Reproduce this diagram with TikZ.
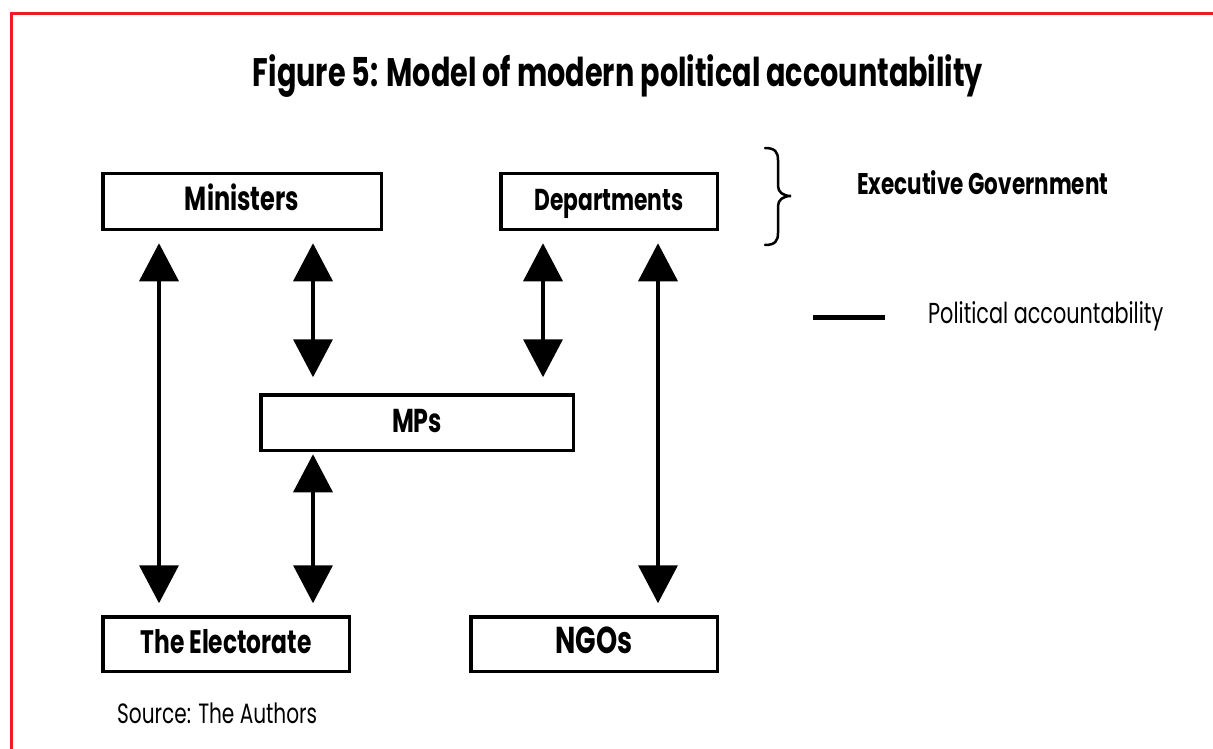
\documentclass[tikz,border=0pt]{standalone}
\usepackage{fontspec}
\newfontfamily\pop{Poppins}[FakeStretch=0.72]
\usetikzlibrary{arrows.meta,calc}
\definecolor{brdred}{RGB}{237,28,36}
\newcommand{\fitw}[2]{\resizebox{#1pt}{!}{#2}}
\begin{document}
\begin{tikzpicture}[x=1pt,y=-1pt,
  box/.style={draw,line width=3.5pt,inner sep=0pt,minimum height=55.5pt,
    text height=19pt,text depth=0pt,font=\pop\bfseries},
  arr/.style={line width=3.7pt,
    {Triangle[length=38pt,width=39pt]}-{Triangle[length=38pt,width=39pt]}},
  lbl/.style={inner sep=0pt,anchor=base west,font=\pop}]
\useasboundingbox (0,0) rectangle (1213,749);
\fill[white] (0,0) rectangle (1213,749);
% red frame
\draw[brdred,line width=3pt] (11,749) -- (11,14) -- (1213,14);
% title
\node[inner sep=0pt,anchor=base,font=\pop\bfseries] (title) at (618,87)
  {\fitw{730}{Figure 5: Model of modern political accountability}};
% boxes
\node[box,minimum width=278.5pt] (min) at (242,201.5) {\fitw{114}{Ministers}};
\node[box,minimum width=216.5pt] (dep) at (609,201.5) {\fitw{149}{Departments}};
\node[box,minimum width=312.5pt] (mps) at (417,422.5) {\fitw{50}{MPs}};
\node[box,minimum width=246.5pt,minimum height=54.5pt] (ele) at (226,644) {\fitw{171}{The Electorate}};
\node[box,minimum width=246.5pt,minimum height=54.5pt] (ngo) at (594,644) {\fitw{77}{NGOs}};
% arrows
\draw[arr] ($(min.south)+(-83,12.25)$) -- ($(ele.north)+(-67,-11.75)$);
\draw[arr] ($(min.south)+(71,12.25)$) -- ($(mps.north)+(-104,-15.75)$);
\draw[arr] ($(dep.south)+(-66,12.25)$) -- ($(mps.north)+(126,-15.75)$);
\draw[arr] ($(dep.south)+(49,12.25)$) -- ($(ngo.north)+(64,-11.75)$);
\draw[arr] ($(mps.south)+(-104,2.25)$) -- ($(ele.north)+(87,-11.75)$);
% brace
\draw[line width=2.5pt,line cap=round] (765,148) .. controls (775,148) and (778,152) .. (778,160)
  -- (778,186) .. controls (778,192) and (783,196) .. (791,196)
  .. controls (783,196) and (778,200) .. (778,206)
  -- (778,233) .. controls (778,241) and (775,245) .. (765,245);
\node[lbl,font=\pop\bfseries] (exec) at (857,194) {\fitw{251}{Executive Government}};
% legend
\coordinate (lg1) at (813,317);
\coordinate (lg2) at (885,317);
\draw[line width=5pt] (lg1) -- (lg2);
\node[lbl] (pol) at (928,323) {\fitw{235}{Political accountability}};
% source
\node[lbl] (src) at (117,723) {\fitw{200}{Source: The Authors}};
\end{tikzpicture}
\end{document}
